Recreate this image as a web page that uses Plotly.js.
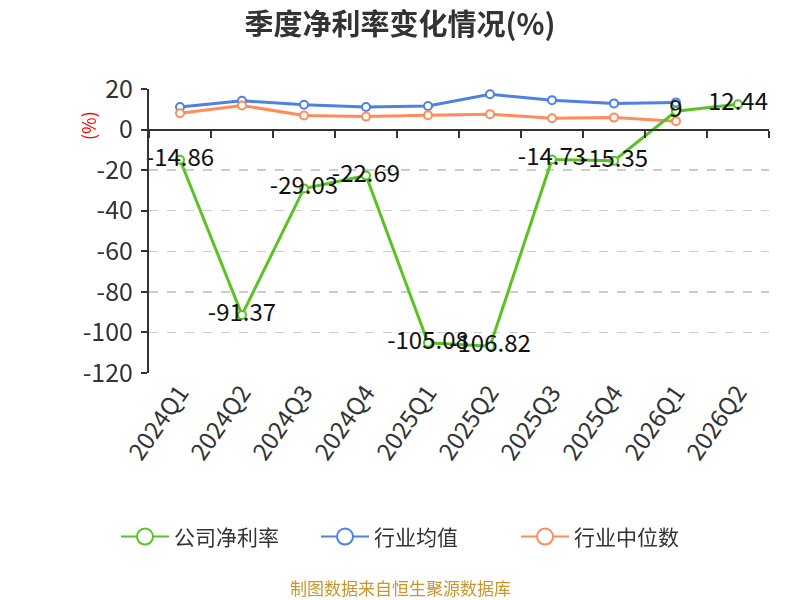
<!DOCTYPE html>
<html>
<head>
<meta charset="utf-8">
<script src="https://cdn.plot.ly/plotly-3.0.1.min.js"></script>
<style>html,body{margin:0;padding:0;background:#fff;}#chart{width:800px;height:600px;}</style>
</head>
<body>
<div id="chart"></div>
<script>
var quarters = ["2024Q1","2024Q2","2024Q3","2024Q4","2025Q1","2025Q2","2025Q3","2025Q4","2026Q1","2026Q2"];
var netRate = [-14.86, -91.37, -29.03, -22.69, -105.08, -106.82, -14.73, -15.35, 9, 12.44];
var industryAvg = [11.1, 14.2, 12.2, 11.1, 11.6, 17.4, 14.5, 12.9, 13.4];
var industryMedian = [8.1, 11.9, 6.9, 6.4, 7.1, 7.6, 5.6, 5.9, 4.1];
var yTicks = [20, 0, -20, -40, -60, -80, -100, -120];

var FONT = '"Noto Sans CJK SC", "Noto Sans", sans-serif';
var green = '#58c322', blue = '#4f80e6', orange = '#ff8c5a';

function series(name, y, color, withText) {
  var t = {
    type: 'scatter', mode: withText ? 'lines+markers+text' : 'lines+markers',
    name: name, x: quarters.slice(0, y.length), y: y,
    line: {color: color, width: 3},
    marker: {symbol: 'circle', size: 8, color: '#fff', line: {color: color, width: 2}},
    cliponaxis: false, showlegend: false
  };
  if (withText) {
    t.text = y.map(String);
    t.textposition = 'middle center';
    t.textfont = {family: FONT, size: 24, color: '#111'};
  }
  return t;
}
function legendItem(name, color, rank) {
  return {type: 'scatter', mode: 'lines+markers', name: name, x: [null], y: [null],
          line: {color: color, width: 2},
          marker: {symbol: 'circle', size: 16, color: '#fff', line: {color: color, width: 2}},
          legendrank: rank, showlegend: true, hoverinfo: 'skip'};
}

var traces = [
  series('行业均值', industryAvg, blue, false),
  series('行业中位数', industryMedian, orange, false),
  series('公司净利率', netRate, green, true),
  {type: 'scatter', mode: 'markers', x: quarters, y: netRate, xaxis: 'x2', opacity: 0,
   showlegend: false, hoverinfo: 'skip', marker: {size: 1}},
  legendItem('公司净利率', green, 1),
  legendItem('行业均值', blue, 2),
  legendItem('行业中位数', orange, 3)
];

var layout = {
  width: 800, height: 600,
  margin: {l: 149, r: 31, t: 89, b: 227},
  paper_bgcolor: '#fff', plot_bgcolor: '#fff',
  font: {family: FONT, color: '#333'},
  title: {text: '<b>季度净利率变化情况(%)</b>', x: 0.5, xanchor: 'center', y: 0.958, yanchor: 'middle',
          font: {family: FONT, size: 29, color: '#333'}},
  xaxis: {type: 'category', categoryorder: 'array', categoryarray: quarters, range: [-0.5, 9.5],
          showline: false, ticks: '', showgrid: false, zeroline: false,
          tickangle: -55, tickfont: {family: FONT, size: 24, color: '#333'}},
  xaxis2: {type: 'category', categoryorder: 'array', categoryarray: quarters, range: [-0.5, 9.5],
           overlaying: 'x', anchor: 'free', position: 120/140, side: 'bottom',
           showline: true, linecolor: '#333', linewidth: 2, ticks: 'outside', ticklen: 7,
           tickcolor: '#333', tickwidth: 2, tickson: 'boundaries', showticklabels: false,
           showgrid: false, zeroline: false},
  yaxis: {range: [-120, 20], tickvals: yTicks, ticktext: yTicks.map(String),
          showline: true, linecolor: '#333', linewidth: 2, ticks: 'outside', ticklen: 6,
          tickcolor: '#333', tickwidth: 2, ticklabelstandoff: 3,
          showgrid: true, gridcolor: '#ccc', griddash: 'dash', gridwidth: 1.5, zeroline: false,
          tickfont: {family: FONT, size: 25, color: '#333'}},
  showlegend: true,
  legend: {orientation: 'h', x: (116 - 149) / 620, xanchor: 'left', y: -0.577, yanchor: 'middle',
           font: {family: FONT, size: 21, color: '#333'}, itemwidth: 48,
           entrywidth: 137, traceorder: 'normal'},
  annotations: [
    {text: '制图数据来自恒生聚源数据库', xref: 'paper', yref: 'paper', x: (400 - 149) / 620, y: -(587 - 373) / 284,
     xanchor: 'center', yanchor: 'middle', showarrow: false,
     font: {family: FONT, size: 17, color: '#c8962c'}},
    {text: '(%)', xref: 'paper', yref: 'paper', x: -(149 - 88) / 620, y: (373 - 126) / 284,
     xanchor: 'center', yanchor: 'middle', showarrow: false, textangle: -90,
     font: {family: FONT, size: 18, color: '#f00'}}
  ]
};

Plotly.newPlot('chart', traces, layout, {displayModeBar: false, staticPlot: true});
</script>
</body>
</html>
